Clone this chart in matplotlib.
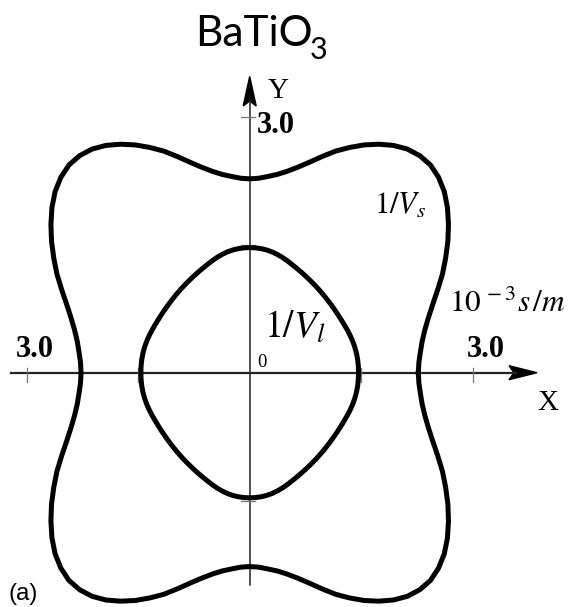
import numpy as np
import matplotlib.pyplot as plt
from matplotlib.patches import Polygon

# slowness surfaces in the XY plane, one octant (0..45 deg from the X axis),
# the rest follows from the cubic-like symmetry
angles_deg = [0, 3, 6, 9, 12, 15, 18, 21, 24, 27, 30, 33, 36, 39, 42, 45]
inv_vs = [2.27, 2.28, 2.31, 2.35, 2.41, 2.49, 2.59, 2.71,
          2.84, 2.96, 3.08, 3.19, 3.29, 3.37, 3.42, 3.44]
inv_vl = [1.465, 1.464, 1.461, 1.455, 1.446, 1.434, 1.420, 1.405,
          1.390, 1.378, 1.368, 1.360, 1.354, 1.350, 1.348, 1.347]

x_ticks = [-3.0, -1.5, 1.5, 3.0]
y_ticks = [-1.5, 1.5, 3.0]

W, H = 569, 607
X0, Y0 = 249.7, 372.7   # origin in pixels (from top-left)
SX, SY = 74.3, 85.4     # pixels per unit


def at(px, py):
    return (px - X0) / SX, (Y0 - py) / SY


def full_curve(r_oct):
    a = np.deg2rad(np.asarray(angles_deg, dtype=float))
    r = np.asarray(r_oct, dtype=float)
    # mirror the octant about 45 deg to get one quadrant
    qa = np.concatenate([a, np.pi / 2 - a[::-1][1:]])
    qr = np.concatenate([r, r[::-1][1:]])
    th = np.concatenate([qa[:-1] + k * np.pi / 2 for k in range(4)] + [[0.0]])
    rr = np.concatenate([qr[:-1]] * 4 + [[qr[0]]])
    return rr * np.cos(th), rr * np.sin(th)


fig = plt.figure(figsize=(W / 100, H / 100), dpi=100)
ax = fig.add_axes([0, 0, 1, 1])
ax.set_xlim(-X0 / SX, (W - X0) / SX)
ax.set_ylim(-(H - Y0) / SY, Y0 / SY)
ax.axis("off")

# axes with arrows
ax.plot([at(11, 0)[0], at(516, 0)[0]], [0, 0], color="#222222", lw=1.6)
ax.plot([0, 0], [at(0, 585)[1], at(0, 100)[1]], color="#222222", lw=1.1)
ax.add_patch(Polygon([at(537, Y0), at(509, Y0 - 7), at(514, Y0), at(509, Y0 + 7)],
                     closed=True, color="black"))
ax.add_patch(Polygon([at(X0, 76.5), at(X0 - 6.5, 106), at(X0, 101), at(X0 + 6.5, 106)],
                     closed=True, color="black"))

for v in x_ticks:
    ax.plot([v, v], [5 / SY, -9 / SY], color="#777777", lw=0.9)
for v in y_ticks:
    ax.plot([-9 / SX, 5 / SX], [v, v], color="#777777", lw=0.9)

for r in (inv_vs, inv_vl):
    cx, cy = full_curve(r)
    ax.plot(cx, cy, color="black", lw=3.6, solid_joinstyle="round")

# title with a hand-placed subscript
ax.text(*at(195, 45.6), "BaTiO", fontfamily="Lato", fontsize=30.5,
        ha="left", va="baseline")
ax.text(*at(310, 59), "3", fontfamily="Lato", fontsize=22,
        ha="left", va="baseline")

serif = "Liberation Serif"
ax.text(*at(268, 98), "Y", fontfamily=serif, fontsize=21, ha="left", va="baseline")
ax.text(*at(537, 410), "X", fontfamily=serif, fontsize=21, ha="left", va="baseline")
ax.text(*at(257, 133), "3.0", fontfamily=serif, fontweight="bold", fontsize=22,
        ha="left", va="baseline")
ax.text(*at(35, 357), "3.0", fontfamily=serif, fontweight="bold", fontsize=22,
        ha="center", va="baseline")
ax.text(*at(486, 357), "3.0", fontfamily=serif, fontweight="bold", fontsize=22,
        ha="center", va="baseline")
ax.text(*at(257, 367), "0", fontfamily=serif, fontsize=13.5, ha="left", va="baseline")
ax.text(*at(264, 338), r"$1/V_l$", math_fontfamily="stix", fontsize=27,
        ha="left", va="baseline")
ax.text(*at(374, 214), r"$1/V_s$", math_fontfamily="stix", fontsize=22,
        ha="left", va="baseline")
ax.text(*at(566, 312), r"$10^{\,-3}s\,/m$", math_fontfamily="stix", fontsize=22.5,
        ha="right", va="baseline")
ax.text(*at(9, 600), "(a)", fontfamily="Liberation Sans", fontsize=17.5,
        ha="left", va="baseline")

fig.savefig("out.png", dpi=100)
plt.close(fig)
